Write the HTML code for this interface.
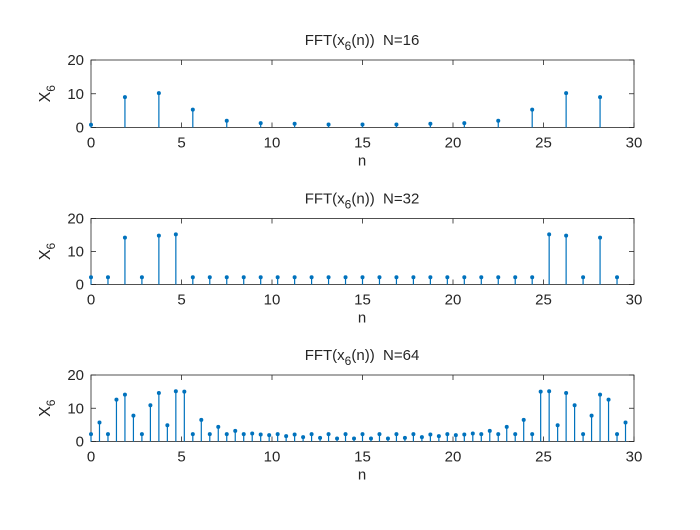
<!DOCTYPE html>
<html><head><meta charset="utf-8"><style>
body{margin:0;background:#fff;width:700px;height:525px;overflow:hidden}
svg text{font-family:"Liberation Sans",Arial,sans-serif;fill:#262626;white-space:pre}
</style></head><body>
<svg id="chart" width="700" height="525" viewBox="0 0 700 525"></svg>
<script>
const xTicks = [0,5,10,15,20,25,30];
const yTicks = [0,10,20];
const sizes = [16,32,64];
const values16 = [0.8,9.0,10.2,5.3,2.0,1.3,1.1,0.9,0.9,0.9,1.1,1.3,2.0,5.3,10.2,9.0];
const values32 = [2.2,2.2,14.2,2.2,14.8,15.2,2.2,2.2,2.2,2.2,2.2,2.2,2.2,2.2,2.2,2.2,2.2,2.2,2.2,2.2,2.2,2.2,2.2,2.2,2.2,2.2,2.2,15.2,14.8,2.2,14.2,2.2];
const half64 = [2.2,5.7,2.2,12.6,14.1,7.8,2.2,10.9,14.6,4.9,15.1,15.0,2.2,6.5,2.2,4.4,2.2,3.2,2.2,2.4,2.1,1.9,2.2,1.6,2.1,1.3,2.2,1.1,2.2,0.9,2.2,0.9,2.2];
const values64 = half64.concat(half64.slice(1,32).reverse());
const seriesList = [values16, values32, values64];
const panels = [{top:60,bottom:127.5},{top:218.5,bottom:284.5},{top:375,bottom:441.5}];
const X0=91, X1=634;
const NS='http://www.w3.org/2000/svg';
const svg=document.getElementById('chart');
function mk(tag,attrs,parent){const e=document.createElementNS(NS,tag);for(const k in attrs)e.setAttribute(k,attrs[k]);(parent||svg).appendChild(e);return e;}
panels.forEach((p,i)=>{
  const N=sizes[i], vals=seriesList[i];
  const xs=v=>X0+(v/30)*(X1-X0);
  const ys=v=>p.bottom-(v/20)*(p.bottom-p.top);
  const g=mk('g',{});
  
  
  const box=mk('rect',{x:X0,y:p.top,width:X1-X0,height:p.bottom-p.top,fill:'#fff',stroke:'#262626','stroke-width':0.8},g);
  
  
  xTicks.forEach(t=>{
    const x=xs(t);
    mk('line',{x1:x,x2:x,y1:p.bottom,y2:p.bottom-5,stroke:'#262626','stroke-width':0.8},g);
    mk('line',{x1:x,x2:x,y1:p.top,y2:p.top+5,stroke:'#262626','stroke-width':0.8},g);
    const tx=mk('text',{x:x,y:p.bottom+20,'font-size':15,'text-anchor':'middle'},g);
    tx.textContent=t;
    
    
  });
  yTicks.forEach(t=>{
    const y=ys(t);
    mk('line',{x1:X0,x2:X0+5,y1:y,y2:y,stroke:'#262626','stroke-width':0.8},g);
    mk('line',{x1:X1,x2:X1-5,y1:y,y2:y,stroke:'#262626','stroke-width':0.8},g);
    const tx=mk('text',{x:X0-7,y:y+5,'font-size':15,'text-anchor':'end'},g);
    tx.textContent=t;
    
    
  });
  vals.forEach((v,k)=>{
    const x=xs(k*30/N);
    const st=mk('line',{x1:x,x2:x,y1:ys(0),y2:ys(v),stroke:'#0072BD','stroke-width':1.2},g);
    
    
    const c=mk('circle',{cx:x,cy:ys(v),r:2,fill:'#0072BD'},g);
    
    
  });
  const ti=mk('text',{x:362,y:p.top-15,'font-size':15,'text-anchor':'middle'},g);
  ti.innerHTML='FFT(x<tspan font-size="12" dy="5">6</tspan><tspan dy="-5">(n))  N='+N+'</tspan>';
  
  
  const xl=mk('text',{x:362,y:p.bottom+38,'font-size':15,'text-anchor':'middle'},g);
  xl.textContent='n';
  
  
  const cy=(p.top+p.bottom)/2;
  const yl=mk('text',{x:0,y:0,'font-size':16,'text-anchor':'middle',transform:'translate(50,'+cy+') rotate(-90)'},g);
  yl.innerHTML='X<tspan font-size="12" dy="5">6</tspan>';
  
  
});
</script>
</body></html>
